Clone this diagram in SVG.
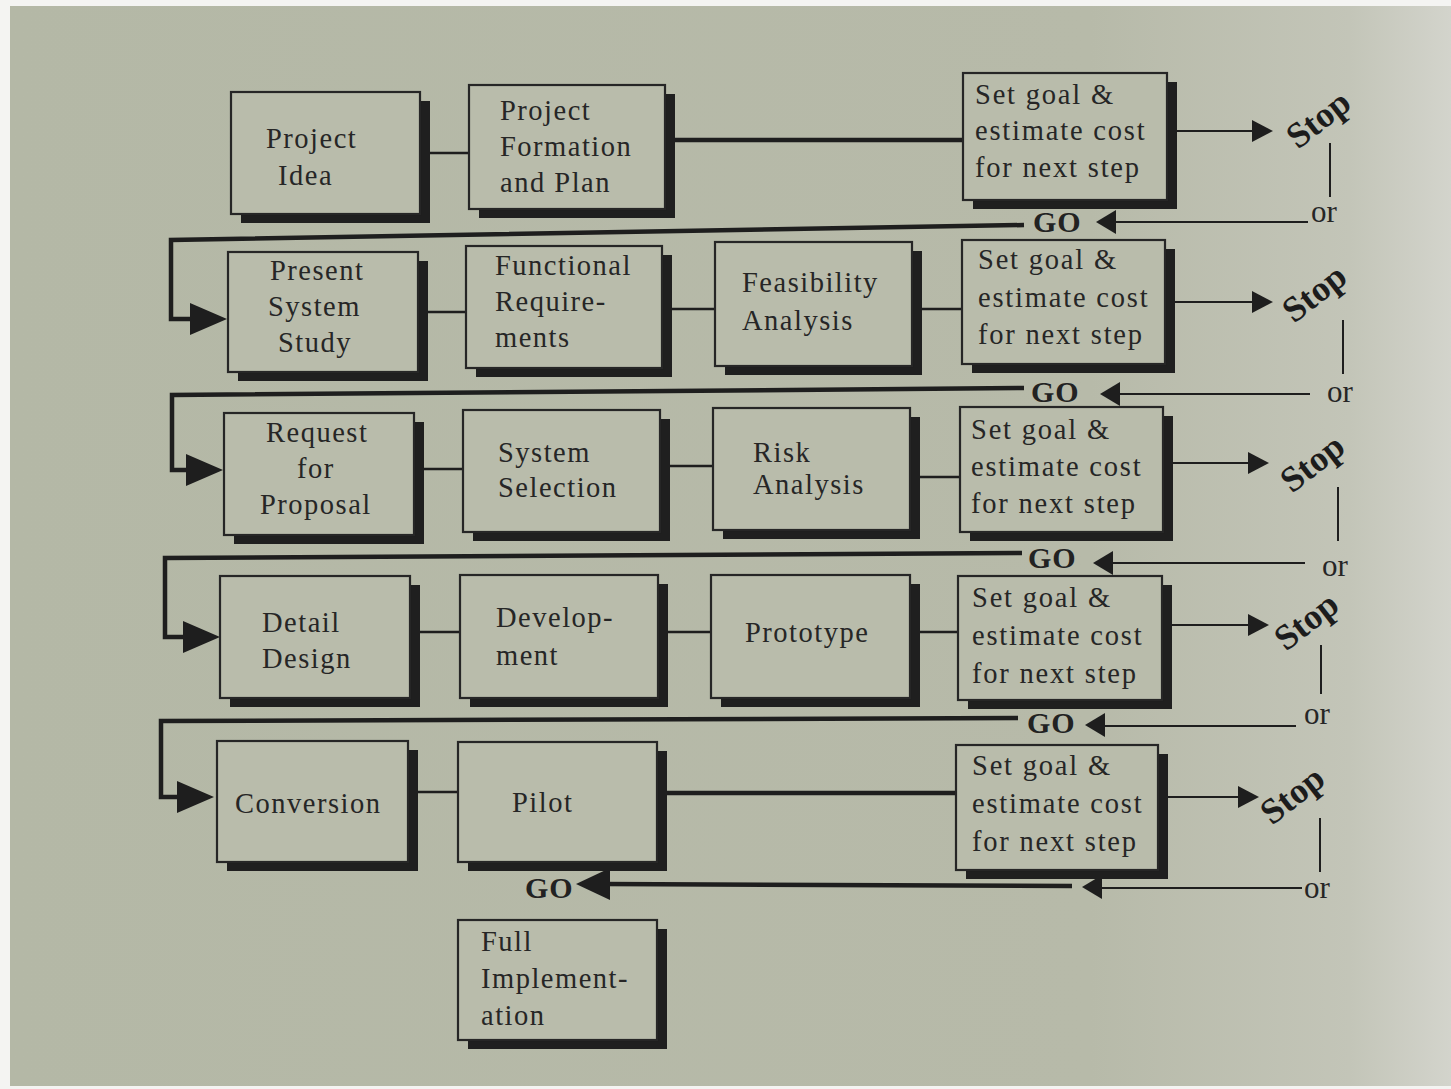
<svg xmlns="http://www.w3.org/2000/svg" width="1451" height="1089" viewBox="0 0 1451 1089">
  <defs>
    <linearGradient id="paper" x1="0" y1="0" x2="1" y2="0">
      <stop offset="0" stop-color="#b4b8a6"/>
      <stop offset="0.75" stop-color="#b7baa9"/>
      <stop offset="0.93" stop-color="#c3c5b8"/>
      <stop offset="1" stop-color="#d3d4cc"/>
    </linearGradient>
  </defs>
  <style>
    .box { fill: #b9bcab; stroke: #262626; stroke-width: 2.2; }
    .shadow { fill: #1f1f1f; }
    .lbl { font-family: "Liberation Serif", "DejaVu Serif", serif; font-size: 28.5px; fill: #262626; letter-spacing: 1.5px; }
    .goal { letter-spacing: 1.8px; }
    .go { font-family: "Liberation Serif", "DejaVu Serif", serif; font-size: 30px; font-weight: bold; fill: #222; letter-spacing: 1px; }
    .stop { font-family: "Liberation Serif", "DejaVu Serif", serif; font-size: 36px; font-weight: bold; fill: #1c1c1c; }
    .or { font-family: "Liberation Serif", "DejaVu Serif", serif; font-size: 31px; fill: #262626; }
    .thin { stroke: #1e1e1e; stroke-width: 2.6; fill: none; }
    .thick { stroke: #1e1e1e; stroke-width: 4.5; fill: none; }
    .hair { stroke: #1e1e1e; stroke-width: 2; fill: none; }
    .tri { fill: #1e1e1e; }
  </style>

  <!-- page -->
  <rect x="0" y="0" width="1451" height="1089" fill="#f4f4f2"/>
  <rect x="10" y="6" width="1441" height="1080" fill="url(#paper)"/>

  <!-- connectors -->
  <g id="connectors">
    <!-- links between steps in each row -->
    <line class="thin" x1="420" y1="153" x2="469" y2="153"/>
    <line class="thick" x1="665" y1="140" x2="963" y2="140"/>
    <line class="thin" x1="418" y1="312" x2="466" y2="312"/>
    <line class="thin" x1="662" y1="309" x2="715" y2="309"/>
    <line class="thin" x1="912" y1="309" x2="962" y2="309"/>
    <line class="thin" x1="414" y1="469" x2="463" y2="469"/>
    <line class="thin" x1="660" y1="466" x2="713" y2="466"/>
    <line class="thin" x1="910" y1="477" x2="960" y2="477"/>
    <line class="thin" x1="410" y1="632" x2="460" y2="632"/>
    <line class="thin" x1="658" y1="632" x2="711" y2="632"/>
    <line class="thin" x1="910" y1="632" x2="958" y2="632"/>
    <line class="thin" x1="408" y1="792" x2="458" y2="792"/>
    <line class="thick" x1="657" y1="793" x2="956" y2="793"/>

    <!-- decision arrows towards Stop -->
    <line class="hair" x1="1167" y1="131" x2="1254" y2="131"/>
    <polygon class="tri" points="1273,131 1252,120 1252,142"/>
    <line class="hair" x1="1165" y1="302" x2="1254" y2="302"/>
    <polygon class="tri" points="1273,302 1252,291 1252,313"/>
    <line class="hair" x1="1163" y1="463" x2="1250" y2="463"/>
    <polygon class="tri" points="1269,463 1248,452 1248,474"/>
    <line class="hair" x1="1162" y1="625" x2="1250" y2="625"/>
    <polygon class="tri" points="1269,625 1248,614 1248,636"/>
    <line class="hair" x1="1158" y1="797" x2="1240" y2="797"/>
    <polygon class="tri" points="1259,797 1238,786 1238,808"/>

    <!-- Stop / or uprights -->
    <line class="hair" x1="1330" y1="143" x2="1330" y2="197"/>
    <line class="hair" x1="1343" y1="320" x2="1343" y2="374"/>
    <line class="hair" x1="1338" y1="487" x2="1338" y2="541"/>
    <line class="hair" x1="1321" y1="645" x2="1321" y2="694"/>
    <line class="hair" x1="1320" y1="818" x2="1320" y2="872"/>

    <!-- or back to GO -->
    <line class="hair" x1="1308" y1="222" x2="1112" y2="222"/>
    <polygon class="tri" points="1096,222 1116,210 1116,234"/>
    <line class="hair" x1="1310" y1="394" x2="1117" y2="394"/>
    <polygon class="tri" points="1100,394 1120,382 1120,406"/>
    <line class="hair" x1="1305" y1="563" x2="1110" y2="563"/>
    <polygon class="tri" points="1093,563 1113,551 1113,575"/>
    <line class="hair" x1="1296" y1="726" x2="1102" y2="726"/>
    <polygon class="tri" points="1085,725 1105,713 1105,737"/>
    <line class="hair" x1="1302" y1="888" x2="1100" y2="888"/>
    <polygon class="tri" points="1082,887 1102,875 1102,899"/>

    <!-- GO returns to the start of the next row -->
    <polyline class="thick" points="1024,225 171,240 171,319 195,319"/>
    <polygon class="tri" points="227,319 190,303 190,335"/>
    <polyline class="thick" points="1024,388 172,395 172,470 192,470"/>
    <polygon class="tri" points="223,470 186,454 186,486"/>
    <polyline class="thick" points="1022,553 165,558 165,637 188,637"/>
    <polygon class="tri" points="220,637 183,621 183,653"/>
    <polyline class="thick" points="1018,718 161,721 161,797 183,797"/>
    <polygon class="tri" points="214,797 177,781 177,813"/>
    <line class="thick" x1="1072" y1="886" x2="604" y2="884"/>
    <polygon class="tri" points="576,884 610,868 610,900"/>
  </g>

  <!-- row 1 -->
  <g id="project-idea">
    <rect class="shadow" x="241" y="101" width="189" height="122"/>
    <rect class="box" x="231" y="92" width="189" height="122"/>
    <text class="lbl" x="266" y="148">Project</text>
    <text class="lbl" x="278" y="185">Idea</text>
  </g>
  <g id="project-formation">
    <rect class="shadow" x="479" y="94" width="196" height="124"/>
    <rect class="box" x="469" y="85" width="196" height="124"/>
    <text class="lbl" x="500" y="120">Project</text>
    <text class="lbl" x="500" y="156">Formation</text>
    <text class="lbl" x="500" y="192">and Plan</text>
  </g>
  <g id="goal-1">
    <rect class="shadow" x="973" y="82" width="204" height="127"/>
    <rect class="box" x="963" y="73" width="204" height="127"/>
    <text class="lbl goal" x="975" y="104">Set goal &amp;</text>
    <text class="lbl goal" x="975" y="140">estimate cost</text>
    <text class="lbl goal" x="975" y="177">for next step</text>
  </g>

  <!-- row 2 -->
  <g id="present-system-study">
    <rect class="shadow" x="238" y="261" width="190" height="120"/>
    <rect class="box" x="228" y="252" width="190" height="120"/>
    <text class="lbl" x="270" y="280">Present</text>
    <text class="lbl" x="268" y="316">System</text>
    <text class="lbl" x="278" y="352">Study</text>
  </g>
  <g id="functional-requirements">
    <rect class="shadow" x="476" y="255" width="196" height="122"/>
    <rect class="box" x="466" y="246" width="196" height="122"/>
    <text class="lbl" x="495" y="275">Functional</text>
    <text class="lbl" x="495" y="311">Require-</text>
    <text class="lbl" x="495" y="347">ments</text>
  </g>
  <g id="feasibility-analysis">
    <rect class="shadow" x="725" y="251" width="197" height="124"/>
    <rect class="box" x="715" y="242" width="197" height="124"/>
    <text class="lbl" x="742" y="292">Feasibility</text>
    <text class="lbl" x="742" y="330">Analysis</text>
  </g>
  <g id="goal-2">
    <rect class="shadow" x="972" y="249" width="203" height="124"/>
    <rect class="box" x="962" y="240" width="203" height="124"/>
    <text class="lbl goal" x="978" y="269">Set goal &amp;</text>
    <text class="lbl goal" x="978" y="307">estimate cost</text>
    <text class="lbl goal" x="978" y="344">for next step</text>
  </g>

  <!-- row 3 -->
  <g id="request-for-proposal">
    <rect class="shadow" x="234" y="422" width="190" height="122"/>
    <rect class="box" x="224" y="413" width="190" height="122"/>
    <text class="lbl" x="266" y="442">Request</text>
    <text class="lbl" x="297" y="478">for</text>
    <text class="lbl" x="260" y="514">Proposal</text>
  </g>
  <g id="system-selection">
    <rect class="shadow" x="473" y="419" width="197" height="122"/>
    <rect class="box" x="463" y="410" width="197" height="122"/>
    <text class="lbl" x="498" y="462">System</text>
    <text class="lbl" x="498" y="497">Selection</text>
  </g>
  <g id="risk-analysis">
    <rect class="shadow" x="723" y="417" width="197" height="122"/>
    <rect class="box" x="713" y="408" width="197" height="122"/>
    <text class="lbl" x="753" y="462">Risk</text>
    <text class="lbl" x="753" y="494">Analysis</text>
  </g>
  <g id="goal-3">
    <rect class="shadow" x="970" y="416" width="203" height="125"/>
    <rect class="box" x="960" y="407" width="203" height="125"/>
    <text class="lbl goal" x="971" y="439">Set goal &amp;</text>
    <text class="lbl goal" x="971" y="476">estimate cost</text>
    <text class="lbl goal" x="971" y="513">for next step</text>
  </g>

  <!-- row 4 -->
  <g id="detail-design">
    <rect class="shadow" x="230" y="585" width="190" height="122"/>
    <rect class="box" x="220" y="576" width="190" height="122"/>
    <text class="lbl" x="262" y="632">Detail</text>
    <text class="lbl" x="262" y="668">Design</text>
  </g>
  <g id="development">
    <rect class="shadow" x="470" y="584" width="198" height="123"/>
    <rect class="box" x="460" y="575" width="198" height="123"/>
    <text class="lbl" x="496" y="627">Develop-</text>
    <text class="lbl" x="496" y="665">ment</text>
  </g>
  <g id="prototype">
    <rect class="shadow" x="721" y="584" width="199" height="123"/>
    <rect class="box" x="711" y="575" width="199" height="123"/>
    <text class="lbl" x="745" y="642">Prototype</text>
  </g>
  <g id="goal-4">
    <rect class="shadow" x="968" y="585" width="204" height="124"/>
    <rect class="box" x="958" y="576" width="204" height="124"/>
    <text class="lbl goal" x="972" y="607">Set goal &amp;</text>
    <text class="lbl goal" x="972" y="645">estimate cost</text>
    <text class="lbl goal" x="972" y="683">for next step</text>
  </g>

  <!-- row 5 -->
  <g id="conversion">
    <rect class="shadow" x="227" y="750" width="191" height="121"/>
    <rect class="box" x="217" y="741" width="191" height="121"/>
    <text class="lbl" x="235" y="813">Conversion</text>
  </g>
  <g id="pilot">
    <rect class="shadow" x="468" y="751" width="199" height="120"/>
    <rect class="box" x="458" y="742" width="199" height="120"/>
    <text class="lbl" x="512" y="812">Pilot</text>
  </g>
  <g id="goal-5">
    <rect class="shadow" x="966" y="754" width="202" height="125"/>
    <rect class="box" x="956" y="745" width="202" height="125"/>
    <text class="lbl goal" x="972" y="775">Set goal &amp;</text>
    <text class="lbl goal" x="972" y="813">estimate cost</text>
    <text class="lbl goal" x="972" y="851">for next step</text>
  </g>

  <!-- final step -->
  <g id="full-implementation">
    <rect class="shadow" x="468" y="929" width="199" height="120"/>
    <rect class="box" x="458" y="920" width="199" height="120"/>
    <text class="lbl" x="481" y="951">Full</text>
    <text class="lbl" x="481" y="988">Implement-</text>
    <text class="lbl" x="481" y="1025">ation</text>
  </g>

  <!-- GO / Stop / or labels -->
  <g id="decision-labels">
    <text class="go" x="1033" y="232">GO</text>
    <text class="go" x="1031" y="402">GO</text>
    <text class="go" x="1028" y="568">GO</text>
    <text class="go" x="1027" y="733">GO</text>
    <text class="go" x="525" y="898">GO</text>

    <text class="stop" transform="translate(1298,150) rotate(-38)">Stop</text>
    <text class="stop" transform="translate(1294,324) rotate(-38)">Stop</text>
    <text class="stop" transform="translate(1292,494) rotate(-38)">Stop</text>
    <text class="stop" transform="translate(1286,652) rotate(-38)">Stop</text>
    <text class="stop" transform="translate(1272,826) rotate(-38)">Stop</text>

    <text class="or" x="1311" y="222">or</text>
    <text class="or" x="1327" y="402">or</text>
    <text class="or" x="1322" y="576">or</text>
    <text class="or" x="1304" y="724">or</text>
    <text class="or" x="1304" y="898">or</text>
  </g>
</svg>
